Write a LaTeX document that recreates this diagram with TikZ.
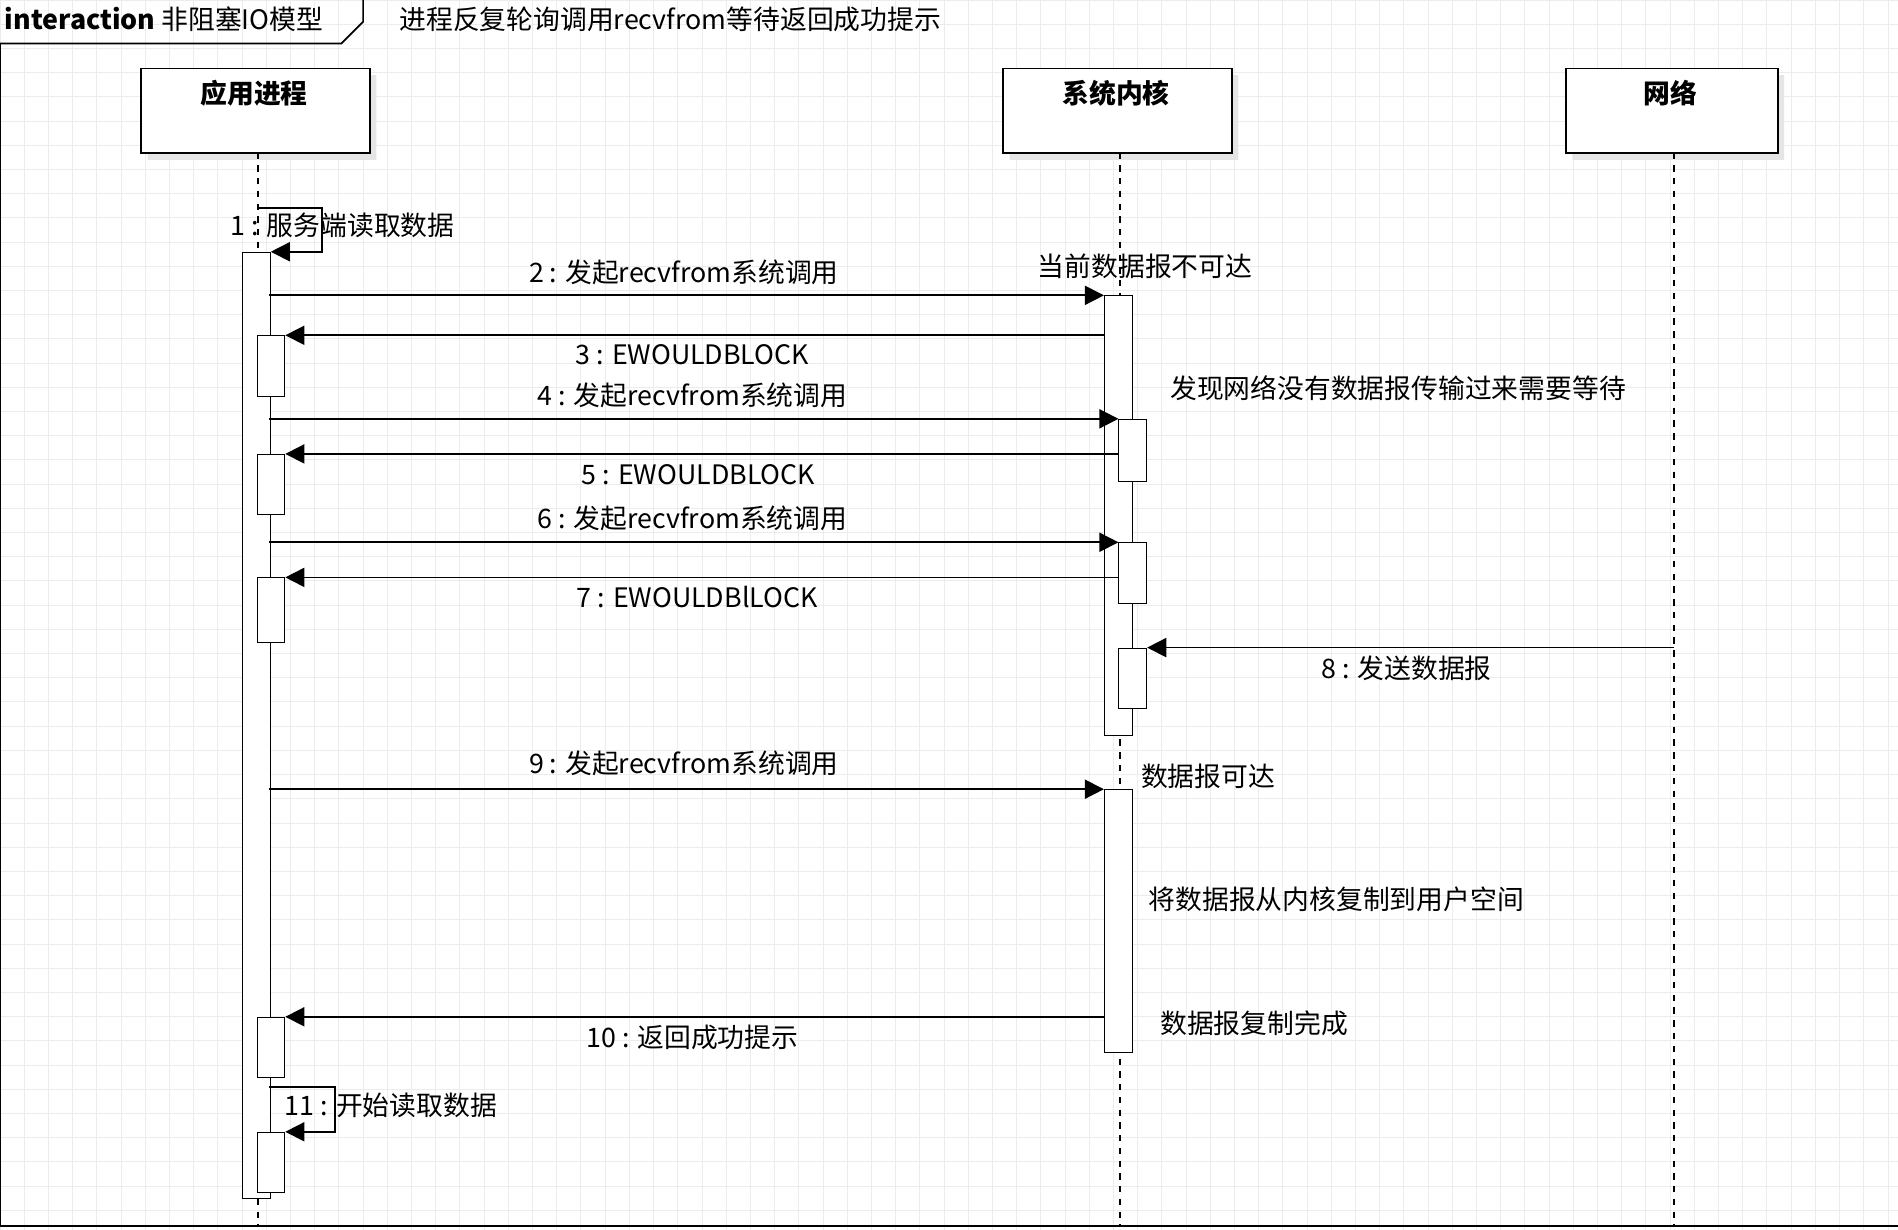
\documentclass[tikz,border=0pt]{standalone}
\usepackage{fontspec}
\setmainfont{Noto Sans CJK SC}
\usetikzlibrary{arrows.meta,positioning}
\tikzset{
  box/.style={draw,thick,fill=white,minimum width=3.78cm,minimum height=1.4cm},
  act/.style={draw,fill=white,minimum width=0.46cm,anchor=north west,inner sep=0pt},
  msg/.style={-{Triangle[length=9pt,width=9pt]},thick},
  life/.style={dashed,thick},
  lbl/.style={font=\fontsize{12.6}{15}\selectfont,inner sep=1pt}
}
\begin{document}
\begin{tikzpicture}[x=0.02cm,y=-0.02cm]
  \useasboundingbox (0,0) rectangle (1568,1016);
  \draw[gray!15] (0,0) grid[step=0.4cm] (1568,1016);

  % frame
  \draw[thick] (0,1013) -- (0,36) -- (282,36) -- (300,18) -- (300,0);
  \draw[thick] (0,1013) -- (1568,1013);
  \node[lbl,anchor=west] (title) at (2,16) {\textbf{interaction} 非阻塞IO模型};
  \node[lbl,anchor=west] (desc) at (328,16) {进程反复轮询调用recvfrom等待返回成功提示};

  % lifelines
  \fill[gray!20] (122,62) rectangle (311,132) (834,62) rectangle (1023,132) (1299,62) rectangle (1474,132);
  \node[box,anchor=north west] (app) at (116,56) {};
  \node[box,anchor=north west] (ker) at (828,56) {};
  \node[box,anchor=north west,minimum width=3.5cm] (net) at (1293,56) {};
  \node[lbl,font=\fontsize{12.6}{15}\selectfont\bfseries] at (210,77) {应用进程};
  \node[lbl,font=\fontsize{12.6}{15}\selectfont\bfseries] at (922,77) {系统内核};
  \node[lbl,font=\fontsize{12.6}{15}\selectfont\bfseries] at (1380,77) {网络};
  \coordinate (append) at (213,1013);
  \coordinate (kerend) at (925,1013);
  \coordinate (netend) at (1383,1013);
  \draw[life] (213,126) -- (append);
  \draw[life] (925,126) -- (kerend);
  \draw[life] (1383,126) -- (netend);

  % activations
  \node[act,minimum height=15.64cm] (a0) at (200,208) {};
  \foreach \n/\y/\h in {a1/277/50,a2/375/50,a3/477/53,a4/840/50,a5/935/50}
    \node[act,minimum height=\h*0.02cm] (\n) at (212,\y) {};
  \node[act,minimum height=7.26cm] (k0) at (912,244) {};
  \foreach \n/\y/\h in {k1/346/51,k2/448/50,k3/535/50}
    \node[act,minimum height=\h*0.02cm] (\n) at (924,\y) {};
  \node[act,minimum height=4.34cm] (k4) at (912,652) {};

  % self calls
  \coordinate (s1) at (213,172);
  \coordinate (s1r) at (266,172);
  \draw[msg] (s1) -- (s1r) |- (a0.north east);
  \node[lbl] at (283,186) {1 : 服务端读取数据};
  \coordinate (s11) at (222,898);
  \coordinate (s11r) at (277,898);
  \draw[msg] (s11) -- (s11r) |- (a5.north east);
  \node[lbl] at (323,913) {11 : 开始读取数据};

  % messages
  \coordinate (p2) at (222,244);
  \draw[msg] (p2) -- (k0.north west);
  \node[lbl] at (565,225) {2 : 发起recvfrom系统调用};
  \coordinate (r3) at (912,277);
  \draw[msg] (r3) -- (a1.north east);
  \node[lbl] at (572,293) {3 : EWOULDBLOCK};
  \coordinate (p4) at (222,346);
  \draw[msg] (p4) -- (k1.north west);
  \node[lbl] at (572,327) {4 : 发起recvfrom系统调用};
  \coordinate (r5) at (924,375);
  \draw[msg] (r5) -- (a2.north east);
  \node[lbl] at (577,392) {5 : EWOULDBLOCK};
  \coordinate (p6) at (222,448);
  \draw[msg] (p6) -- (k2.north west);
  \node[lbl] at (572,428) {6 : 发起recvfrom系统调用};
  \coordinate (r7) at (924,477);
  \draw[msg] (r7) -- (a3.north east);
  \node[lbl] at (576,493) {7 : EWOULDBlLOCK};
  \coordinate (n8) at (1383,535);
  \draw[msg] (n8) -- (k3.north east);
  \node[lbl] at (1162,552) {8 : 发送数据报};
  \coordinate (p9) at (222,652);
  \draw[msg] (p9) -- (k4.north west);
  \node[lbl] at (565,631) {9 : 发起recvfrom系统调用};
  \coordinate (r10) at (912,840);
  \draw[msg] (r10) -- (a4.north east);
  \node[lbl] at (572,857) {10 : 返回成功提示};

  % notes
  \node[lbl] at (946,220) {当前数据报不可达};
  \node[lbl] at (1155,321) {发现网络没有数据报传输过来需要等待};
  \node[lbl] at (998,641) {数据报可达};
  \node[lbl] at (1104,743) {将数据报从内核复制到用户空间};
  \node[lbl] at (1036,845) {数据报复制完成};
\end{tikzpicture}
\end{document}
